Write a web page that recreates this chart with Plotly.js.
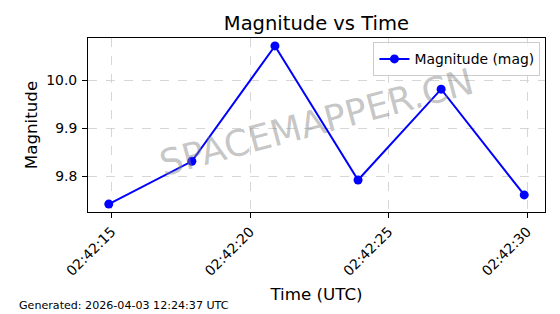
<!DOCTYPE html>
<html>
<head>
<meta charset="utf-8">
<script src="https://cdn.plot.ly/plotly-3.0.1.min.js"></script>
<style>html,body{margin:0;padding:0;background:#fff;}#chart{width:560px;height:314px;}</style>
</head>
<body>
<div id="chart"></div>
<script>
const times = ["2026-04-03 02:42:14.9", "2026-04-03 02:42:17.9", "2026-04-03 02:42:20.9", "2026-04-03 02:42:23.9", "2026-04-03 02:42:26.9", "2026-04-03 02:42:29.9"];
const magnitudes = [9.742, 9.831, 10.071, 9.792, 9.981, 9.761];
const seriesName = "Magnitude (mag)";
const yTicks = [9.8, 9.9, 10.0];
const yTickLabels = ["9.8", "9.9", "10.0"];
const footerText = "Generated: 2026-04-03 12:24:37 UTC";
const watermark = "SPACEMAPPER.CN";

const font = "DejaVu Sans, sans-serif";
const W = 560, H = 314;
const M = {l: 88, r: 15, t: 38, b: 102};
const plotW = W - M.l - M.r, plotH = H - M.t - M.b;

const trace = {
  x: times, y: magnitudes, name: seriesName, type: "scatter", mode: "lines+markers",
  line: {color: "#0000ff", width: 2}, marker: {color: "#0000ff", size: 9}
};
const axisCommon = {
  ticks: "outside", ticklen: 5, tickcolor: "#000", tickwidth: 1,
  tickfont: {size: 13.9, family: font},
  showline: true, linecolor: "#000", linewidth: 1, mirror: true,
  showgrid: true, gridcolor: "#cccccc", griddash: "dash", gridwidth: 0.8,
  zeroline: false
};
const layout = {
  width: W, height: H,
  margin: M,
  paper_bgcolor: "#fff", plot_bgcolor: "#fff",
  font: {family: font, color: "#000", size: 12},
  title: {text: "Magnitude vs Time", font: {size: 19.5, family: font}, x: 0.565, xanchor: "center", y: 0.925, yanchor: "middle"},
  xaxis: Object.assign({}, axisCommon, {
    type: "date",
    range: ["2026-04-03 02:42:14.15", "2026-04-03 02:42:30.65"],
    tick0: "2026-04-03 02:42:15", dtick: 5000, tickformat: "%H:%M:%S",
    tickangle: -45,
    title: {text: "Time (UTC)", font: {size: 16.7, family: font}, standoff: 10}
  }),
  yaxis: Object.assign({}, axisCommon, {
    range: [9.7255, 10.0875],
    tickvals: yTicks, ticktext: yTickLabels,
    ticklabelstandoff: 2,
    title: {text: "Magnitude", font: {size: 16.7, family: font}, standoff: 4}
  }),
  showlegend: true,
  legend: {
    x: 0.99, y: 0.975, xanchor: "right", yanchor: "top",
    bgcolor: "rgba(255,255,255,0.8)", bordercolor: "#cccccc", borderwidth: 1,
    font: {size: 13.9, family: font}, itemwidth: 30, tracegroupgap: 0
  },
  annotations: [
    {text: watermark, xref: "paper", yref: "paper", x: 0.499, y: 0.513, showarrow: false,
     textangle: -15, font: {size: 36, family: font, color: "rgba(128,128,128,0.45)"}},
    {text: footerText, xref: "paper", yref: "paper",
     x: (17 - M.l) / plotW, y: (H - M.b - 305) / plotH, xanchor: "left", yanchor: "middle",
     showarrow: false, font: {size: 11.1, family: font, color: "#000"}}
  ]
};
Plotly.newPlot("chart", [trace], layout, {displayModeBar: false, staticPlot: true});
</script>
</body>
</html>
